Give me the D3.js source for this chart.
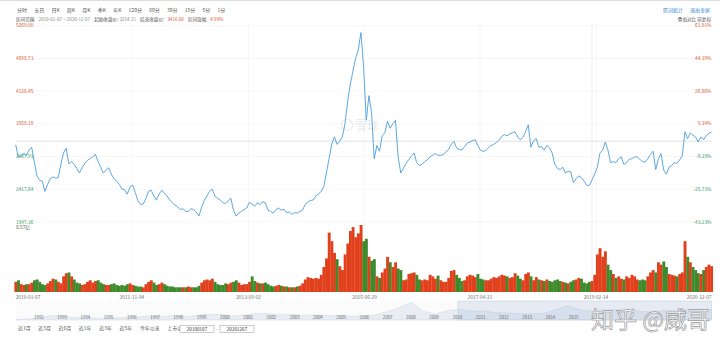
<!DOCTYPE html>
<html>
<head>
<meta charset="utf-8">
<script src="https://cdn.jsdelivr.net/npm/d3@7/dist/d3.min.js"></script>
<style>
  html, body { margin: 0; padding: 0; background: #fff; }
  svg { display: block; font-family: "Noto Sans CJK SC", "Noto Sans", sans-serif; }
</style>
</head>
<body>
<svg id="chart" width="720" height="345"></svg>
<script>
// Shanghai Composite close, two readings per month from 2010-01-07 to 2020-12-07
const priceValues = [
  3193,2980,2990,3050,3000,3100,3150,2900,2650,2570,2560,2380,2500,2600,2630,2610,2620,2850,3050,3130,2860,2900,2850,2780,
  2700,2790,2870,2920,2950,2980,3030,2900,2800,2700,2750,2790,2680,2600,2560,2500,2420,2410,2330,2450,2490,2360,2220,2150,
  2160,2250,2380,2400,2300,2230,2330,2400,2350,2300,2230,2180,2140,2110,2060,2080,2030,2030,2080,2060,2020,1950,2100,2220,
  2300,2380,2420,2300,2260,2230,2180,2170,2210,2260,2050,1950,2000,2030,2060,2090,2190,2160,2120,2180,2150,2200,2180,2050,
  2030,2000,2060,2090,2050,2070,2010,2020,1980,2010,2000,2030,2050,2150,2200,2220,2230,2300,2330,2380,2460,2700,2950,3200,
  3330,3200,3250,3330,3560,3950,4250,4480,4700,4850,5150,4550,3620,4050,3750,2950,3180,3080,3350,3400,3600,3480,3560,3620,
  2984,2700,2780,2870,2930,3000,3050,2880,2830,2850,2900,2930,2980,3010,3040,3010,3010,3020,3070,3110,3200,3250,3140,3110,
  3100,3160,3220,3240,3260,3280,3180,3100,3080,3090,3140,3180,3200,3230,3270,3340,3370,3350,3380,3400,3420,3330,3280,3320,
  3420,3540,3150,3260,3300,3150,3160,3100,3180,3140,3050,2850,2780,2760,2800,2700,2730,2720,2530,2600,2650,2620,2560,2490,
  2480,2580,2680,2800,3050,3100,3240,3100,2880,2900,2880,2950,2980,2850,2880,2940,2950,2980,2980,2940,2900,2890,2950,3020,
  3080,2760,2950,3040,2750,2680,2800,2830,2880,2870,2930,3000,3420,3300,3400,3360,3330,3240,3330,3280,3350,3390,3417
];

// Traded volume (100 million lots), same half-month steps
const volumeValues = [
  1.3,1.5,1.0,0.9,1.0,1.0,1.2,1.5,1.6,1.3,1.0,0.9,1.1,1.4,1.7,1.6,1.3,1.1,2.0,2.4,2.5,2.0,1.6,1.2,
  1.1,0.9,1.0,1.3,1.5,1.2,1.4,1.5,1.2,1.0,0.9,0.9,1.0,1.1,0.9,0.8,0.9,0.8,1.0,1.1,0.9,0.8,0.7,0.7,
  0.6,1.0,1.3,1.5,1.2,0.9,1.0,1.2,1.0,0.8,0.7,0.7,0.6,0.6,0.6,0.6,0.6,0.7,0.6,0.6,0.6,0.8,1.2,1.5,
  1.6,1.5,1.7,1.3,1.0,0.9,0.9,1.1,1.0,1.2,1.3,1.5,1.2,0.9,1.0,1.0,1.3,2.0,1.4,1.2,1.1,1.1,1.2,1.0,
  0.8,0.7,0.8,0.9,0.8,0.7,0.7,0.6,0.6,0.6,0.7,0.8,1.1,1.6,1.9,1.8,1.7,1.8,1.7,2.2,3.2,4.3,7.6,6.5,
  5.0,4.2,3.3,2.8,4.8,6.2,7.8,8.3,7.0,7.5,8.57,6.5,6.8,4.5,4.0,4.2,2.0,1.8,2.5,3.0,4.5,3.8,3.2,3.8,
  3.0,2.8,1.5,1.6,2.3,2.4,2.5,2.2,1.6,1.5,1.6,1.5,2.2,2.0,1.7,2.1,1.5,1.3,1.3,1.8,2.7,2.8,2.2,1.8,
  1.4,1.5,2.0,2.2,2.1,1.9,2.3,1.7,1.6,1.5,1.5,1.7,1.9,1.8,2.0,2.2,2.1,2.0,1.8,1.9,2.4,2.1,1.7,1.5,
  2.3,2.5,2.0,1.5,1.9,1.6,1.5,1.4,1.6,1.4,1.3,1.5,1.6,1.4,1.3,1.2,1.1,1.3,1.5,1.6,1.8,1.7,1.2,1.1,
  1.3,1.4,2.2,4.8,5.6,4.5,5.2,3.5,2.8,2.3,1.8,2.0,1.7,1.6,2.0,1.8,2.2,2.0,1.6,1.5,1.6,1.5,2.0,2.5,
  2.8,2.5,3.8,3.5,3.9,3.2,2.3,2.2,2.1,2.0,2.3,2.5,6.5,4.5,3.8,3.2,2.8,2.4,2.3,2.8,3.2,3.5,3.3
];

const startDate = "2010-01-07", endDate = "2020-12-07";
const priceTicks = [5269.00, 4698.73, 4128.45, 3558.18, 2987.91, 2417.64, 1847.36];
const baseClose = 3254.21;
const dateTicks = ["2010-01-07","2011-11-04","2013-09-02","2015-06-29","2017-04-21","2019-02-14","2020-12-07"];
const cursorDate = "2019-01-22";
const periodTabs = ["分时","五日","日K","周K","月K","季K","年K","120分","60分","30分","15分","5分","1分"];
const rangeButtons = ["近1月","近3月","近6月","近1年","近3年","近5年","今年以来","上市以来"];
const navYears = d3.range(1992, 2016);
// Long-run index level for the overview strip (one reading per half year, 1991-2020)
const navValues = [
  130,290,780,1400,1200,800,700,560,650,800,920,1200,1050,1400,1050,1400,1800,1700,1300,1400,
  2070,2050,1650,1750,1500,1550,1400,1450,1250,1100,1600,2700,4000,5500,2700,1900,3000,3300,
  2700,2900,2300,2200,2000,2000,2100,3200,4500,3200,2800,3100,3200,3300,2800,2500,3000,3000,3200,3400,3417
];

const RED = "#e2502b", GREEN = "#2f9a6a", GRID = "#f2f2f2";
const svg = d3.select("#chart");
const parse = d3.timeParse("%Y-%m-%d");
const X0 = 15.7, X1 = 711.5;

const x = d3.scaleTime().domain([parse(startDate), parse(endDate)]).range([X0, X1]);
const xi = d3.scaleLinear().domain([0, priceValues.length - 1]).range([X0, X1]);
const y = d3.scaleLinear().domain([priceTicks[6], priceTicks[0]]).range([221.9, 25.7]);
const yVol = d3.scaleLinear().domain([0, 8.57]).range([292, 225]);
const xVol = d3.scaleBand().domain(d3.range(volumeValues.length)).range([X0 - 1.3, X1 + 1.3]).padding(0);

// top border
svg.append("line").attr("x1", 0).attr("x2", 720).attr("y1", 0.5).attr("y2", 0.5).attr("stroke", "#ddd");

// period tabs
let tx = 17;
const tabG = svg.append("g").attr("font-size", 5).attr("fill", "#555");
periodTabs.forEach(t => {
  const el = tabG.append("text").attr("x", tx).attr("y", 11.5).text(t);
  tx += el.node().getComputedTextLength() + 7.2;
});

// range summary
const info = svg.append("text").attr("x", 16).attr("y", 20.5).attr("font-size", 4.6).attr("fill", "#555");
info.append("tspan").text("区间范围");
info.append("tspan").attr("dx", 4).attr("fill", "#888").text(startDate + " ~ " + endDate);
info.append("tspan").attr("dx", 4).text("起始收盘价: ");
info.append("tspan").attr("fill", "#888").text("3254.21");
info.append("tspan").attr("dx", 4).text("结束收盘价: ");
info.append("tspan").attr("dx", 2).attr("fill", RED).text("3416.60");
info.append("tspan").attr("dx", 4).text("区间涨幅");
info.append("tspan").attr("dx", 4).attr("fill", RED).text("4.99%");

svg.append("text").attr("x", 683).attr("y", 11.5).attr("text-anchor", "end").attr("font-size", 5).attr("fill", "#2f7fd1").text("区间统计");
svg.append("text").attr("x", 710).attr("y", 11.5).attr("text-anchor", "end").attr("font-size", 5).attr("fill", "#2f7fd1").text("退出全屏");
svg.append("text").attr("x", 711).attr("y", 20.5).attr("text-anchor", "end").attr("font-size", 4.6).attr("fill", "#555").text("叠加对比  前复权");

// horizontal grid
svg.append("g").selectAll("line").data(priceTicks).join("line")
  .attr("x1", X0).attr("x2", X1).attr("y1", d => y(d)).attr("y2", d => y(d))
  .attr("stroke", GRID).attr("stroke-width", 0.6);
// vertical grid at date ticks
svg.append("g").selectAll("line").data(dateTicks.slice(1, -1)).join("line")
  .attr("x1", d => x(parse(d))).attr("x2", d => x(parse(d)))
  .attr("y1", 24).attr("y2", 292).attr("stroke", GRID).attr("stroke-width", 0.6);
// hover cursor line
svg.append("line").attr("x1", x(parse(cursorDate))).attr("x2", x(parse(cursorDate)))
  .attr("y1", 22).attr("y2", 292).attr("stroke", "#e6e6e6").attr("stroke-width", 0.7);

// base close reference line
svg.append("line").attr("x1", X0).attr("x2", X1).attr("y1", y(baseClose)).attr("y2", y(baseClose))
  .attr("stroke", "#dcdcdc").attr("stroke-width", 0.8);

// background logo
const wm = svg.append("g").attr("opacity", 0.18);
wm.append("circle").attr("cx", 347).attr("cy", 125).attr("r", 5.5).attr("fill", "none").attr("stroke", "#888").attr("stroke-width", 1.2);
wm.append("text").attr("x", 355).attr("y", 129.5).attr("font-size", 12).attr("fill", "#888").text("雪球");

// volume bars, red when the index rose over the step
svg.append("g").selectAll("rect").data(volumeValues).join("rect")
  .attr("x", (d, i) => xVol(i))
  .attr("width", xVol.bandwidth() + 0.25)
  .attr("y", d => yVol(d))
  .attr("height", d => yVol(0) - yVol(d))
  .attr("fill", (d, i) => (i === 0 || priceValues[i] >= priceValues[i - 1]) ? "#e0401c" : "#3f8a2c");

// price line
svg.append("path")
  .datum(priceValues)
  .attr("fill", "none").attr("stroke", "#4a9ede").attr("stroke-width", 0.9).attr("stroke-linejoin", "round")
  .attr("d", d3.line().x((d, i) => xi(i)).y(d => y(d)));

// price & percentage labels
const pl = svg.append("g").attr("font-size", 4.8);
pl.selectAll("text.l").data(priceTicks).join("text").attr("class", "l")
  .attr("x", 16).attr("y", d => y(d)).attr("dy", "0.35em")
  .attr("fill", d => d >= baseClose ? RED : GREEN).text(d => d.toFixed(2));
pl.selectAll("text.r").data(priceTicks).join("text").attr("class", "r")
  .attr("x", 711.5).attr("y", d => y(d)).attr("dy", "0.35em").attr("text-anchor", "end")
  .attr("fill", d => d >= baseClose ? RED : GREEN)
  .text(d => ((d / baseClose - 1) * 100).toFixed(2) + "%");
svg.append("text").attr("x", 16).attr("y", 227.6).attr("dy", "0.35em").attr("font-size", 4.8).attr("fill", "#555").text("8.57亿");

// date axis labels
svg.append("g").attr("font-size", 4.8).attr("fill", "#666").selectAll("text").data(dateTicks).join("text")
  .attr("x", d => x(parse(d))).attr("y", 298.5)
  .attr("text-anchor", (d, i) => i === 0 ? "start" : i === dateTicks.length - 1 ? "end" : "middle")
  .text(d => d);

// overview navigator
const xNav = d3.scaleLinear().domain([0, navValues.length - 1]).range([X0, X1]);
const yNav = d3.scaleLinear().domain([0, 6000]).range([320, 301]);
svg.append("rect").attr("x", X0).attr("y", 301).attr("width", X1 - X0).attr("height", 19).attr("fill", "#fbfbfc");
svg.append("path").datum(navValues)
  .attr("fill", "#e9edf3").attr("stroke", "#d5dbe6").attr("stroke-width", 0.6)
  .attr("d", d3.area().x((d, i) => xNav(i)).y0(320).y1(d => yNav(d)));
const xYear = d3.scaleLinear().domain([1991, 2020.93]).range([X0, X1]);
svg.append("rect").attr("x", xYear(2010.02)).attr("y", 301).attr("width", X1 - xYear(2010.02)).attr("height", 19)
  .attr("fill", "rgba(120,150,200,0.16)").attr("stroke", "#c5d0e0").attr("stroke-width", 0.6);
svg.append("g").attr("font-size", 4.4).attr("fill", "#666").selectAll("text").data(navYears).join("text")
  .attr("x", d => xYear(d)).attr("y", 318.5).attr("text-anchor", "middle").text(d => d);

// range buttons
const bg = svg.append("g").attr("font-size", 5).attr("fill", "#555");
let bx = 18;
rangeButtons.forEach(t => {
  const el = bg.append("text").attr("x", bx).attr("y", 330).text(t);
  bx += el.node().getComputedTextLength() + 7.5;
});
[["20100107", 180], ["20201207", 220]].forEach(([t, px]) => {
  svg.append("rect").attr("x", px).attr("y", 325.5).attr("width", 34).attr("height", 7).attr("fill", "#fff").attr("stroke", "#999").attr("stroke-width", 0.5);
  svg.append("text").attr("x", px + 17).attr("y", 330.7).attr("text-anchor", "middle").attr("font-size", 4.6).attr("fill", "#333").text(t);
});
svg.append("text").attr("x", 217).attr("y", 330.5).attr("text-anchor", "middle").attr("font-size", 4.6).attr("fill", "#555").text("-");

// author mark
svg.append("text").attr("x", 591).attr("y", 327.5).attr("font-size", 23).attr("fill", "#fff")
  .attr("stroke", "#9a9a9a").attr("stroke-width", 0.7).attr("font-family", "Noto Sans CJK SC").text("知乎 @威哥");
</script>
</body>
</html>
